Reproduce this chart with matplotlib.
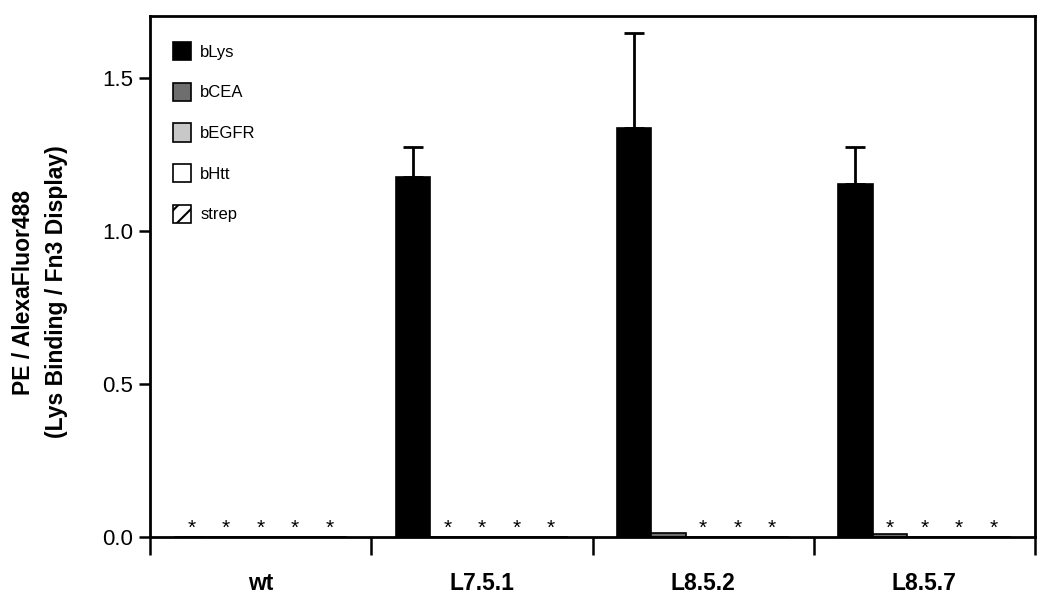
import numpy as np
import matplotlib.pyplot as plt
from matplotlib.ticker import FixedLocator

## data ========================================================================
groups = ['wt', 'L7.5.1', 'L8.5.2', 'L8.5.7']
targets = ['bLys', 'bCEA', 'bEGFR', 'bHtt', 'strep']

bLys  = [0.0, 1.176, 1.337, 1.154]
bCEA  = [0.0, 0.0, 0.012, 0.010]
bEGFR = [0.0, 0.0, 0.0, 0.0]
bHtt  = [0.0, 0.0, 0.0, 0.0]
strep = [0.0, 0.0, 0.0, 0.0]

bLys_err = [0.0, 0.099, 0.310, 0.121]

# '*' marks (no binding above background)
stars = [
    [1, 1, 1, 1, 1],
    [0, 1, 1, 1, 1],
    [0, 0, 1, 1, 1],
    [0, 1, 1, 1, 1],
]
# =============================================================================

plt.rcParams['font.family'] = ['Liberation Sans', 'DejaVu Sans']
plt.rcParams['hatch.linewidth'] = 1.5

values = [bLys, bCEA, bEGFR, bHtt, strep]
colors = ['black', '#6e6e6e', '#c8c8c8', 'white', 'white']
hatches = [None, None, None, None, '//']

fig = plt.figure(figsize=(10.5, 5.96), dpi=100)
ax = fig.add_axes([150 / 1050, 59 / 596, 885 / 1050, 521 / 596])

x = np.arange(len(groups))
w = 0.156
for i, (name, vals) in enumerate(zip(targets, values)):
    pos = x + (i - 2) * w
    err = None
    if i == 0:
        err = [np.zeros(len(groups)), bLys_err]
    ax.bar(pos, vals, width=w, color=colors[i], edgecolor='black',
           linewidth=1.2, hatch=hatches[i], label=name,
           yerr=err, capsize=7, error_kw=dict(elinewidth=2, capthick=2, ecolor='black'))
    for g in range(len(groups)):
        if stars[g][i]:
            ax.text(pos[g], 0.028, '*', ha='center', va='center', fontsize=15)

ax.set_xlim(-0.5, 3.5)
ax.set_ylim(0, 1.703)
ax.set_yticks([0.0, 0.5, 1.0, 1.5])
ax.set_yticklabels(['0.0', '0.5', '1.0', '1.5'])
ax.tick_params(axis='y', direction='out', length=8, width=1.8, labelsize=16, pad=4)

ax.set_xticks(x)
ax.set_xticklabels(groups, fontsize=16.5, fontweight='bold')
ax.tick_params(axis='x', which='major', length=0, pad=25)
ax.xaxis.set_minor_locator(FixedLocator([-0.5, 0.5, 1.5, 2.5, 3.5]))
ax.tick_params(axis='x', which='minor', direction='out', length=13, width=1.8)

for s in ax.spines.values():
    s.set_linewidth(2)

fig.text(40 / 1050, 1 - 292 / 596,
         'PE / AlexaFluor488\n(Lys Binding / Fn3 Display)',
         rotation=90, ha='center', va='center', fontsize=16.5,
         fontweight='bold', linespacing=1.55)

ax.legend(loc='upper left', bbox_to_anchor=(0.026, 0.950), frameon=False,
          borderpad=0, borderaxespad=0, fontsize=12, handlelength=1.08,
          handleheight=1.3, handletextpad=0.55, labelspacing=1.35)

plt.savefig('out.png', dpi=100)
plt.close()
